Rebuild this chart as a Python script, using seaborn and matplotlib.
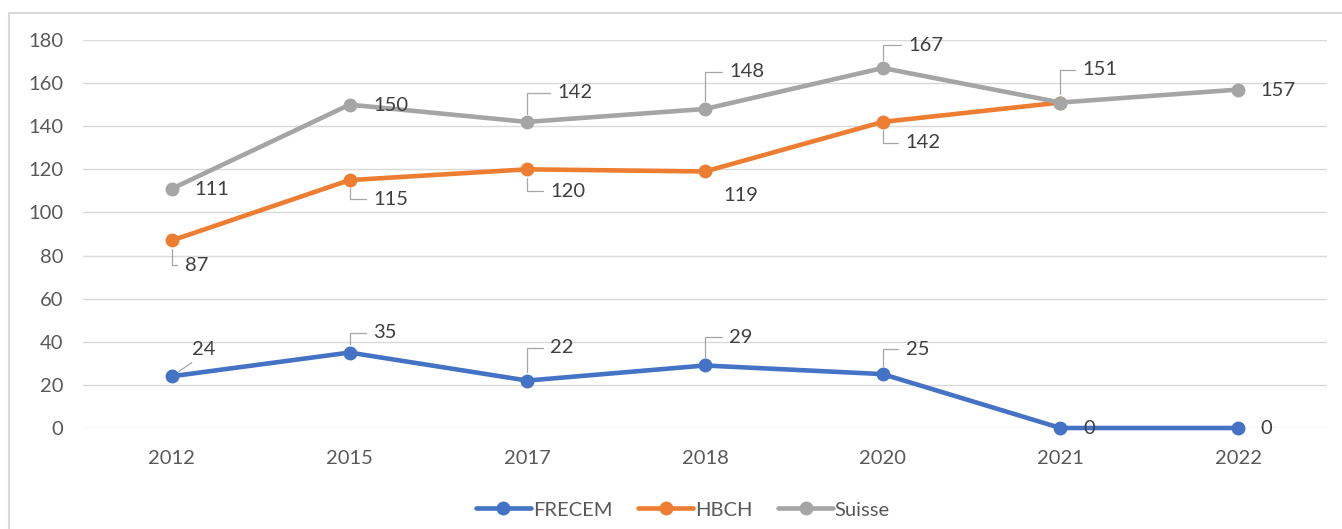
import matplotlib
matplotlib.use("Agg")
import matplotlib.pyplot as plt
from matplotlib.patches import Rectangle
import numpy as np
import pandas as pd
import seaborn as sns

# Données
annees = ["2012", "2015", "2017", "2018", "2020", "2021", "2022"]
frecem = [24, 35, 22, 29, 25, 0, 0]
hbch = [87, 115, 120, 119, 142, 151, np.nan]
suisse = [111, 150, 142, 148, 167, 151, 157]
series = ["FRECEM", "HBCH", "Suisse"]
couleurs = ["#4472C4", "#ED7D31", "#A5A5A5"]

# Position des étiquettes (dx, dy en pixels, ligne de rappel)
pos_frecem = [(20, 27, "diag"), (24, 20, "angle"), (23, 33, "angle"), (24, 28, "angle"),
              (23, 25, "angle"), (23, -1, None), (22, -1, None)]
pos_hbch = [(13, -25, "angle"), (24, -19, "angle"), (23, -22, "angle"), (18, -24, None),
            (23, -21, "angle"), None, None]
pos_suisse = [(23, -1, None), (24, -1, None), (30, 29, "angle"), (24, 37, "angle"),
              (26, 23, "angle"), (22, 33, "angle"), (22, -1, None)]

df = pd.DataFrame({
    "annee": annees * 3,
    "valeur": frecem + hbch + suisse,
    "serie": [s for s in series for _ in annees],
})

sns.set_style("white")
plt.rcParams["font.family"] = ["Lato", "DejaVu Sans"]

fig = plt.figure(figsize=(13.42, 5.29), dpi=100)
ax = fig.add_axes([83 / 1342, 101 / 529, (1327 - 83) / 1342, 388 / 529])

sns.lineplot(data=df, x="annee", y="valeur", hue="serie", palette=couleurs,
             marker="o", markersize=10, markeredgewidth=0, linewidth=3.3,
             sort=False, ax=ax)
for ligne in ax.lines:
    ligne.set_clip_on(False)

# Étiquettes de données
for valeurs, positions in [(suisse, pos_suisse), (hbch, pos_hbch), (frecem, pos_frecem)]:
    for i, (v, p) in enumerate(zip(valeurs, positions)):
        if p is None or np.isnan(v):
            continue
        dx, dy, rappel = p
        props = None
        if rappel == "angle":
            props = dict(arrowstyle="-", color="#A6A6A6", lw=0.9, relpos=(0, 0.5),
                         shrinkA=3, shrinkB=6,
                         connectionstyle="angle,angleA=0,angleB=90,rad=0")
        elif rappel == "diag":
            props = dict(arrowstyle="-", color="#A6A6A6", lw=0.9, relpos=(0.3, 0),
                         shrinkA=2, shrinkB=6)
        ax.annotate(f"{int(v)}", xy=(i, v), xytext=(dx, dy), textcoords="offset pixels",
                    ha="left", va="center", fontsize=14.5, color="#404040",
                    arrowprops=props, zorder=5)

ax.set_xlim(-0.5, len(annees) - 0.5)
ax.set_ylim(0, 180)
ax.set_yticks(range(0, 181, 20))
ax.set_xlabel("")
ax.set_ylabel("")
ax.grid(axis="y", color="#D9D9D9", lw=1)
ax.set_axisbelow(True)
sns.despine(ax=ax, left=True, bottom=True)
ax.tick_params(axis="both", length=0, labelsize=14.5, labelcolor="#595959")
ax.tick_params(axis="x", pad=16)
ax.tick_params(axis="y", pad=14)

handles, labels = ax.get_legend_handles_labels()
ax.get_legend().remove()
leg = fig.legend(handles, labels, loc="center", bbox_to_anchor=(0.509, 0.036), ncol=3,
                 frameon=False, fontsize=14.5, handlelength=2.7, columnspacing=1.3,
                 handletextpad=0.1)
for t in leg.get_texts():
    t.set_color("#595959")

# Cadre du graphique
fig.patches.append(Rectangle((9 / 1342, -0.2), 1.2, 1.2 - 13 / 529,
                             transform=fig.transFigure, fill=False,
                             edgecolor="#D9D9D9", lw=1.5, zorder=0))

plt.savefig("out.png", dpi=100)
plt.close()
